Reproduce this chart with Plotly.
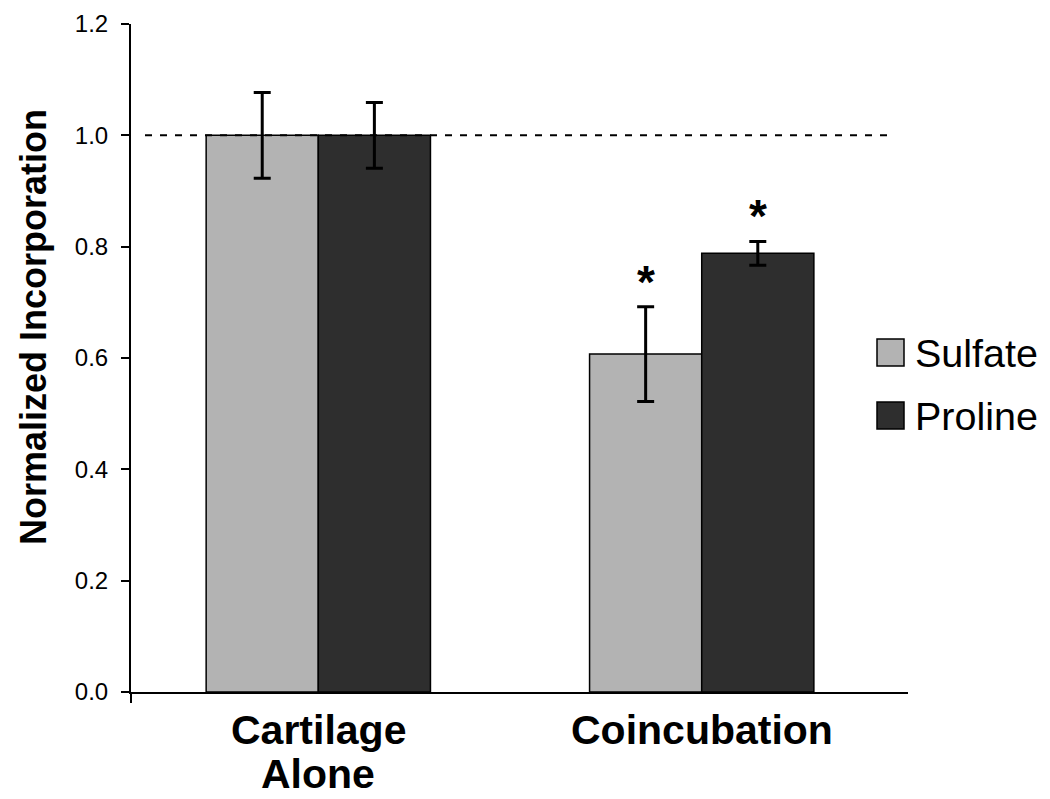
import plotly.graph_objects as go

categories = ["Cartilage<br>Alone", "Coincubation"]
sulfate = [1.0, 0.607]
sulfate_err = [0.077, 0.085]
proline = [1.0, 0.788]
proline_err = [0.059, 0.0215]
y_ticks = [0.0, 0.2, 0.4, 0.6, 0.8, 1.0, 1.2]
series_names = ["Sulfate", "Proline"]
series_colors = ["#b3b3b3", "#2e2e2e"]
significant_sulfate = [False, True]
significant_proline = [False, True]

FONT = "Liberation Sans, Arial, sans-serif"

fig = go.Figure()
for name, vals, errs, col in [
    (series_names[0], sulfate, sulfate_err, series_colors[0]),
    (series_names[1], proline, proline_err, series_colors[1]),
]:
    fig.add_trace(go.Bar(
        name=name, x=[0, 1], y=vals,
        marker=dict(color=col, line=dict(color="black", width=1.5)),
        error_y=dict(type="data", array=errs, visible=True, color="black",
                     thickness=3, width=8.5),
        showlegend=False,
    ))

W, H = 1050, 799
ml, mr, mt, mb = 131, 142, 24, 107
pw = W - ml - mr
ph = H - mt - mb


def px2x(px):
    return (px - ml) / pw


def py2y(py):
    return (H - mb - py) / ph


# asterisks
offset_px = 56
for sig, vals, errs, shift in [(significant_sulfate, sulfate, sulfate_err, -offset_px),
                               (significant_proline, proline, proline_err, offset_px)]:
    for i, s in enumerate(sig):
        if s:
            fig.add_annotation(x=i, y=vals[i] + errs[i], xref="x", yref="y",
                               text="<b>*</b>", showarrow=False, xshift=shift,
                               yanchor="bottom", yshift=-3,
                               font=dict(family=FONT, size=46, color="black"))

# category labels (one annotation per text line)
line_centers = [729.5, 774.0]
for i, cat in enumerate(categories):
    for j, line in enumerate(cat.split("<br>")):
        fig.add_annotation(x=i, xref="x", yref="paper", y=py2y(line_centers[j]),
                           text="<b>" + line + "</b>", showarrow=False,
                           xanchor="center", yanchor="middle",
                           font=dict(family=FONT, size=41, color="black"))

shapes = []
# reference dashed line at 1.0
shapes.append(dict(type="line", xref="paper", yref="y", x0=px2x(145), x1=px2x(887),
                   y0=1.0, y1=1.0,
                   line=dict(color="black", width=2, dash="7px,8px")))
# small downward extension of y axis below x axis
shapes.append(dict(type="line", xref="paper", yref="paper", x0=0, x1=0,
                   y0=0, y1=-11 / ph, line=dict(color="black", width=2)))

# custom legend
legend_rows = [(339, 366), (402, 429)]
for (t, b), name, col in zip(legend_rows, series_names, series_colors):
    shapes.append(dict(type="rect", xref="paper", yref="paper",
                       x0=px2x(877), x1=px2x(904), y0=py2y(b), y1=py2y(t),
                       fillcolor=col, line=dict(color="black", width=1.5)))
    fig.add_annotation(xref="paper", yref="paper", x=px2x(913), y=py2y((t + b) / 2),
                       text=name, showarrow=False, xanchor="left", yanchor="middle",
                       font=dict(family=FONT, size=39.5, color="black"))

# y-axis title
fig.add_annotation(xref="paper", yref="paper", x=px2x(33), y=py2y(327),
                   text="<b>Normalized Incorporation</b>", textangle=-90,
                   showarrow=False, xanchor="center", yanchor="middle",
                   font=dict(family=FONT, size=36, color="black"))

fig.update_layout(
    width=W, height=H,
    margin=dict(l=ml, r=mr, t=mt, b=mb, autoexpand=False),
    paper_bgcolor="white", plot_bgcolor="white",
    barmode="group", bargap=0.415, bargroupgap=0,
    shapes=shapes,
    font=dict(family=FONT, color="black"),
)
fig.update_xaxes(
    range=[-0.4885, 1.538], tickmode="array", tickvals=[0, 1],
    showticklabels=False,
    showline=True, linecolor="black", linewidth=2, ticks="", showgrid=False,
    zeroline=False, automargin=False,
)
fig.update_yaxes(
    range=[0, 1.2], tickmode="array", tickvals=y_ticks,
    ticktext=[f"{v:.1f}" for v in y_ticks],
    tickfont=dict(family=FONT, size=24, color="black"),
    showline=True, linecolor="black", linewidth=2, ticks="outside", ticklen=8,
    tickwidth=2, tickcolor="black", showgrid=False, zeroline=False,
    automargin=False, ticklabelstandoff=8,
)

fig.write_html("out.html", config={"displayModeBar": False},
               post_script="document.body.style.margin='0';")
